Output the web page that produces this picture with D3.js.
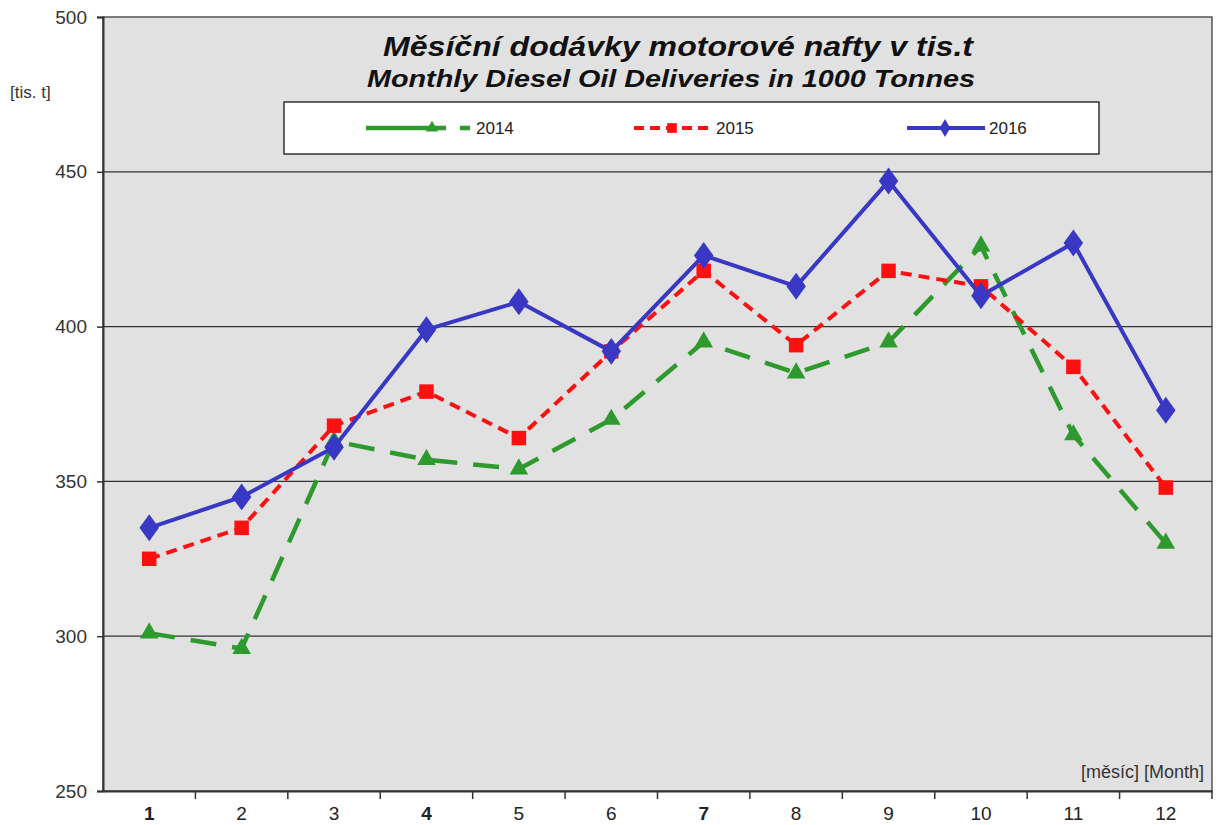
<!DOCTYPE html>
<html lang="cs">
<head>
<meta charset="UTF-8">
<title>Monthly Diesel Oil Deliveries</title>
<script src="https://cdnjs.cloudflare.com/ajax/libs/d3/7.8.5/d3.min.js"></script>
<style>
  body { margin: 0; background: #fff; }
  text { font-family: "Liberation Sans", Arial, sans-serif; }
</style>
</head>
<body>
<div id="chart"></div>
<script>
var months = [1, 2, 3, 4, 5, 6, 7, 8, 9, 10, 11, 12];
var boldMonths = [1, 4, 7];
var y2014 = [301, 296, 363, 357, 354, 370, 395, 385, 395, 426, 365, 330];
var y2015 = [325, 335, 368, 379, 364, 392, 418, 394, 418, 413, 387, 348];
var y2016 = [335, 345, 361, 399, 408, 392, 423, 413, 447, 410, 427, 373];
var yTicks = [250, 300, 350, 400, 450, 500];

var width = 1218, height = 825;
var m = {left: 103, right: 6, top: 17, bottom: 34};

var svg = d3.select("#chart").append("svg")
    .attr("width", width)
    .attr("height", height);

var x = d3.scaleBand().domain(months).range([m.left, width - m.right]);
var y = d3.scaleLinear().domain([250, 500]).range([height - m.bottom, m.top]);

// plot background
svg.append("rect")
    .attr("x", m.left).attr("y", m.top)
    .attr("width", width - m.left - m.right)
    .attr("height", height - m.top - m.bottom)
    .attr("fill", "#e1e1e1")
    .attr("stroke", "#555").attr("stroke-width", 1.5);

// gridlines
svg.selectAll(".grid")
    .data(yTicks.filter(function (d) { return d > 250 && d < 500; }))
    .enter().append("line")
    .attr("x1", m.left).attr("x2", width - m.right)
    .attr("y1", function (d) { return y(d); })
    .attr("y2", function (d) { return y(d); })
    .attr("stroke", "#333").attr("stroke-width", 1.2);

// y axis
var yAxis = svg.append("g")
    .attr("transform", "translate(" + m.left + ",0)")
    .call(d3.axisLeft(y).tickValues(yTicks).tickSize(6).tickPadding(10));
yAxis.select(".domain").attr("stroke", "#333").attr("stroke-width", 2);
yAxis.selectAll(".tick line").attr("stroke", "#333").attr("stroke-width", 1.5);
yAxis.selectAll(".tick text")
    .attr("font-size", 19).attr("fill", "#333")
    .attr("font-family", "Liberation Sans, Arial, sans-serif");

// x axis
var xAxis = svg.append("g")
    .attr("transform", "translate(0," + (height - m.bottom) + ")")
    .call(d3.axisBottom(x).tickSize(0).tickPadding(16));
xAxis.select(".domain").attr("stroke", "#333").attr("stroke-width", 2);
xAxis.selectAll(".tick text")
    .attr("font-size", 19).attr("fill", "#222")
    .attr("font-family", "Liberation Sans, Arial, sans-serif")
    .attr("font-weight", function (d) { return boldMonths.indexOf(d) >= 0 ? "bold" : "normal"; });
svg.selectAll(".xtick")
    .data(months)
    .enter().append("line")
    .attr("x1", function (d) { return x(d) + x.bandwidth(); })
    .attr("x2", function (d) { return x(d) + x.bandwidth(); })
    .attr("y1", height - m.bottom)
    .attr("y2", height - m.bottom + 8)
    .attr("stroke", "#333").attr("stroke-width", 1.5);

// axis unit labels
svg.append("text")
    .attr("x", 10).attr("y", 98)
    .attr("font-size", 17).attr("fill", "#333")
    .text("[tis. t]");
svg.append("text")
    .attr("x", width - m.right - 8).attr("y", 778)
    .attr("text-anchor", "end")
    .attr("font-size", 18).attr("fill", "#333")
    .text("[měsíc] [Month]");

// title
svg.append("text")
    .attr("x", 383).attr("y", 56)
    .attr("font-size", 28).attr("font-weight", "bold").attr("font-style", "italic")
    .attr("textLength", 590).attr("lengthAdjust", "spacingAndGlyphs")
    .attr("fill", "#111")
    .text("Měsíční dodávky motorové nafty v tis.t");
svg.append("text")
    .attr("x", 367).attr("y", 87)
    .attr("font-size", 23).attr("font-weight", "bold").attr("font-style", "italic")
    .attr("textLength", 608).attr("lengthAdjust", "spacingAndGlyphs")
    .attr("fill", "#111")
    .text("Monthly Diesel Oil Deliveries in 1000 Tonnes");

var series = [
    {name: "2014", values: y2014, color: "#2e9a2e", dash: "26,16", width: 4.5, symbol: d3.symbolTriangle, size: 150, lx: 366},
    {name: "2015", values: y2015, color: "#ff1010", dash: "11,7", width: 4, symbol: d3.symbolSquare, size: 210, lx: 634},
    {name: "2016", values: y2016, color: "#3838c4", dash: null, width: 4, symbol: d3.symbolDiamond, size: 210, lx: 907}
];

var line = d3.line()
    .x(function (d, i) { return x(months[i]) + x.bandwidth() / 2; })
    .y(function (d) { return y(d); });

series.forEach(function (s) {
    var g = svg.append("g");
    g.append("path")
        .datum(s.values)
        .attr("d", line)
        .attr("fill", "none")
        .attr("stroke", s.color)
        .attr("stroke-width", s.width)
        .attr("stroke-dasharray", s.dash)
        .attr("stroke-linejoin", "round");
    g.selectAll("path.mk")
        .data(s.values)
        .enter().append("path")
        .attr("class", "mk")
        .attr("d", d3.symbol().type(s.symbol).size(s.size))
        .attr("transform", function (d, i) {
            var sx = s.symbol === d3.symbolDiamond ? "scale(1.25,1)" : "";
            return "translate(" + (x(months[i]) + x.bandwidth() / 2) + "," + y(d) + ")" + sx;
        })
        .attr("fill", s.color);
});

// legend
svg.append("rect")
    .attr("x", 284).attr("y", 102)
    .attr("width", 815).attr("height", 52)
    .attr("fill", "#fff")
    .attr("stroke", "#333").attr("stroke-width", 1.5);

series.forEach(function (s) {
    var ly = 128;
    svg.append("line")
        .attr("x1", s.lx).attr("x2", s.lx + (s.name === "2014" ? 104 : 78))
        .attr("y1", ly).attr("y2", ly)
        .attr("stroke", s.color)
        .attr("stroke-width", s.width)
        .attr("stroke-dasharray", s.name === "2014" ? "80,14" : (s.name === "2015" ? "10,6" : null));
    svg.append("path")
        .attr("d", d3.symbol().type(s.symbol).size(s.size * 0.45))
        .attr("transform", "translate(" + (s.lx + (s.name === "2014" ? 66 : 38)) + "," + ly + ")")
        .attr("fill", s.color);
    svg.append("text")
        .attr("x", s.lx + (s.name === "2014" ? 110 : 82)).attr("y", ly + 6)
        .attr("font-size", 17).attr("fill", "#222")
        .text(s.name);
});
</script>
</body>
</html>
